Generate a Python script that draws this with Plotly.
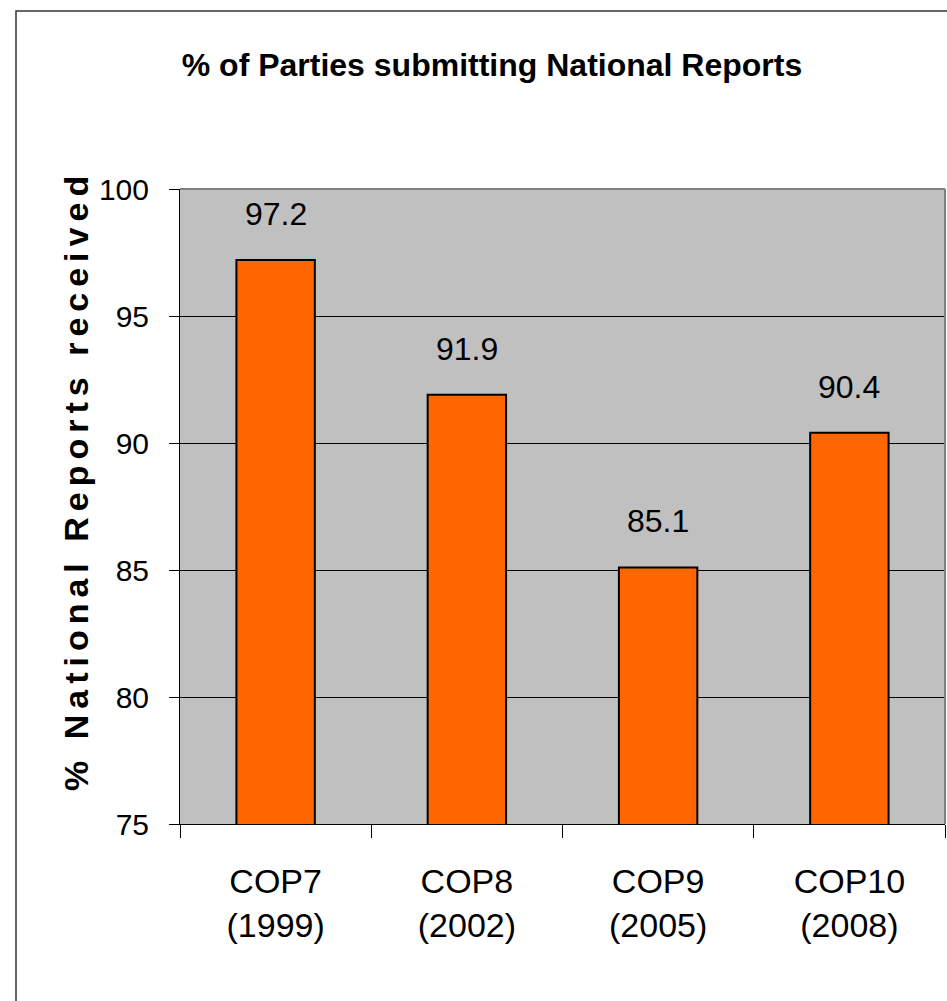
import plotly.graph_objects as go

categories = ["COP7<br>(1999)", "COP8<br>(2002)", "COP9<br>(2005)", "COP10<br>(2008)"]
values = [97.2, 91.9, 85.1, 90.4]
value_labels = ["97.2", "91.9", "85.1", "90.4"]
y_ticks = [75, 80, 85, 90, 95, 100]

FONT = "Liberation Sans, Arial, sans-serif"
W, H = 947, 1001
L, R, T, B = 180, 2, 189, 177
pw = W - L - R
ph = H - T - B

fig = go.Figure()
fig.add_trace(go.Bar(
    x=categories, y=values, width=0.41,
    marker=dict(color="#FF6600", line=dict(color="black", width=2)),
    hoverinfo="skip",
))

for c, v, t in zip(categories, values, value_labels):
    fig.add_annotation(x=c, y=v, text=t, showarrow=False, xref="x", yref="y",
                       yanchor="middle", yshift=46,
                       font=dict(family=FONT, size=32, color="black"))

# y-axis title
fig.add_annotation(xref="paper", yref="paper", x=(76 - L) / pw, y=(H - B - 481) / ph,
                   text='<span style="letter-spacing:6px">% National Reports received</span>',
                   textangle=-90, showarrow=False, xanchor="center", yanchor="middle",
                   font=dict(family=FONT, size=34, color="black", weight="bold"))

# outer frame
fig.add_shape(type="rect", xref="paper", yref="paper",
              x0=(16 - L) / pw, x1=(952 - L) / pw,
              y0=(H - B - 1010) / ph, y1=(H - B - 11) / ph,
              line=dict(color="#333333", width=1.5), layer="below")
# plot-area border top & right
fig.add_shape(type="line", xref="paper", yref="paper", x0=0, x1=1, y0=1, y1=1,
              line=dict(color="#808080", width=2))
fig.add_shape(type="line", xref="paper", yref="paper", x0=1, x1=1, y0=0, y1=1,
              line=dict(color="#808080", width=2))

fig.update_layout(
    width=W, height=H,
    margin=dict(l=L, r=R, t=T, b=B),
    paper_bgcolor="white", plot_bgcolor="#C0C0C0",
    showlegend=False,
    title=dict(text="<b>% of Parties submitting National Reports</b>",
               x=492 / W, xanchor="center", y=1 - 65 / H, yanchor="middle",
               font=dict(family=FONT, size=32, color="black")),
    xaxis=dict(type="category", tickson="boundaries", ticks="outside", ticklen=13,
               tickcolor="black", tickwidth=1, showline=True, linecolor="black", linewidth=1,
               showgrid=False, ticklabelstandoff=27,
               tickfont=dict(family=FONT, size=34, color="black")),
    yaxis=dict(range=[75, 100], tickvals=y_ticks, ticks="outside", ticklen=10,
               tickcolor="black", tickwidth=1, showline=True, linecolor="black", linewidth=1,
               showgrid=True, gridcolor="black", gridwidth=1, zeroline=False,
               ticklabelstandoff=14,
               tickfont=dict(family=FONT, size=30, color="black")),
)

fig.write_html("out.html", config={"displayModeBar": False},
               post_script="document.body.style.margin='0';")
